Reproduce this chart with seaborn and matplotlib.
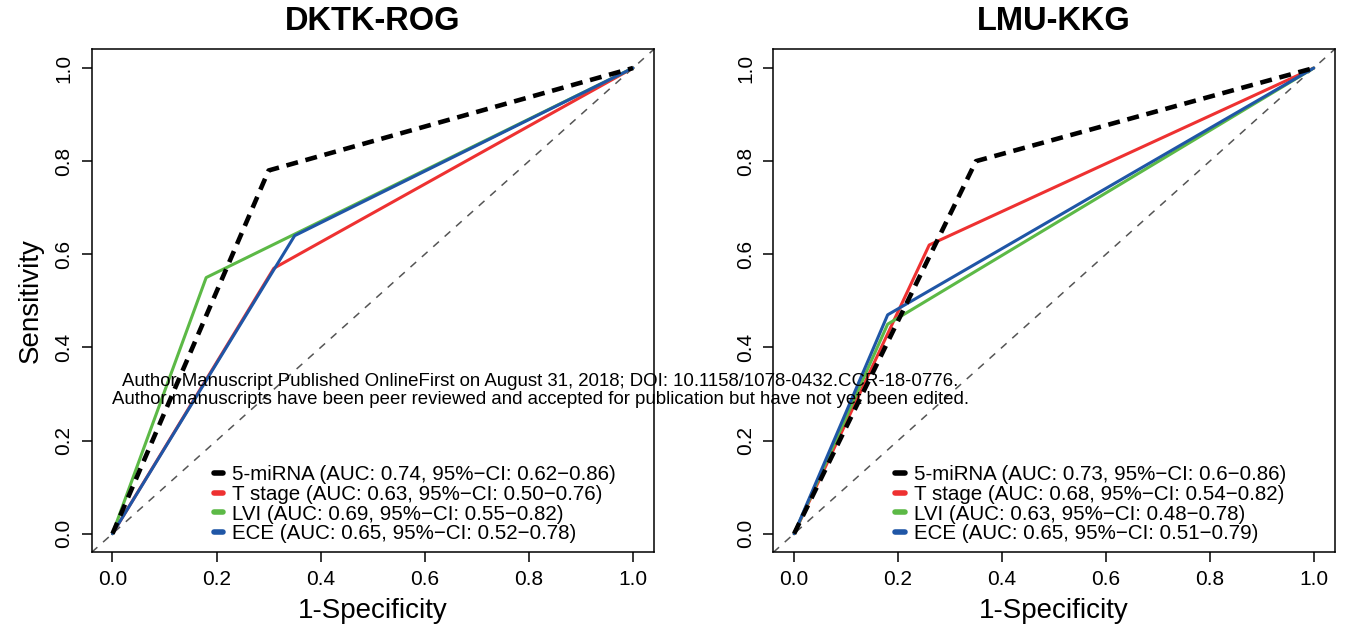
import matplotlib
matplotlib.use("Agg")
import matplotlib.pyplot as plt
from matplotlib.lines import Line2D
import numpy as np
import pandas as pd
import seaborn as sns

# ROC points (1-specificity, sensitivity) for each predictor, per cohort
cohorts = ["DKTK-ROG", "LMU-KKG"]
predictors = ["5-miRNA", "T stage", "LVI", "ECE"]

dktk_fpr = {"5-miRNA": [0.0, 0.30, 1.0], "T stage": [0.0, 0.31, 1.0],
            "LVI": [0.0, 0.18, 1.0], "ECE": [0.0, 0.35, 1.0]}
dktk_tpr = {"5-miRNA": [0.0, 0.78, 1.0], "T stage": [0.0, 0.57, 1.0],
            "LVI": [0.0, 0.55, 1.0], "ECE": [0.0, 0.64, 1.0]}
lmu_fpr = {"5-miRNA": [0.0, 0.35, 1.0], "T stage": [0.0, 0.26, 1.0],
           "LVI": [0.0, 0.18, 1.0], "ECE": [0.0, 0.18, 1.0]}
lmu_tpr = {"5-miRNA": [0.0, 0.80, 1.0], "T stage": [0.0, 0.62, 1.0],
           "LVI": [0.0, 0.45, 1.0], "ECE": [0.0, 0.47, 1.0]}

dktk_labels = ["5-miRNA (AUC: 0.74, 95%\u2212CI: 0.62\u22120.86)",
               "T stage (AUC: 0.63, 95%\u2212CI: 0.50\u22120.76)",
               "LVI (AUC: 0.69, 95%\u2212CI: 0.55\u22120.82)",
               "ECE (AUC: 0.65, 95%\u2212CI: 0.52\u22120.78)"]
lmu_labels = ["5-miRNA (AUC: 0.73, 95%\u2212CI: 0.6\u22120.86)",
              "T stage (AUC: 0.68, 95%\u2212CI: 0.54\u22120.82)",
              "LVI (AUC: 0.63, 95%\u2212CI: 0.48\u22120.78)",
              "ECE (AUC: 0.65, 95%\u2212CI: 0.51\u22120.79)"]

tick_vals = [0.0, 0.2, 0.4, 0.6, 0.8, 1.0]
tick_labels = ["0.0", "0.2", "0.4", "0.6", "0.8", "1.0"]

colors = {"5-miRNA": "black", "T stage": "#EE3131", "LVI": "#5CB946", "ECE": "#1F56A6"}
draw_order = ["T stage", "LVI", "ECE", "5-miRNA"]

sns.set_style("ticks")
plt.rcParams["font.family"] = ["Liberation Sans", "DejaVu Sans"]
plt.rcParams.update({"text.color": "black", "axes.labelcolor": "black",
                     "xtick.color": "black", "ytick.color": "black",
                     "axes.edgecolor": "black"})

fig = plt.figure(figsize=(13.48, 6.31), dpi=100)
ax_pos = [[0.068, 0.1247, 0.417, 0.797], [0.5737, 0.1247, 0.4163, 0.797]]

panels = [(dktk_fpr, dktk_tpr, dktk_labels), (lmu_fpr, lmu_tpr, lmu_labels)]

for i, (fpr, tpr, labels) in enumerate(panels):
    ax = fig.add_axes(ax_pos[i])
    ax.axline((0, 0), (1, 1), color="#555555", lw=1.1, dashes=(5, 5), zorder=1)
    for name in draw_order:
        df = pd.DataFrame({"fpr": fpr[name], "tpr": tpr[name]})
        if name == "5-miRNA":
            sns.lineplot(data=df, x="fpr", y="tpr", sort=False, estimator=None,
                         color=colors[name], lw=3.3, ax=ax, zorder=4)
            ax.lines[-1].set_dashes((2.6, 1.7))
        else:
            sns.lineplot(data=df, x="fpr", y="tpr", sort=False, estimator=None,
                         color=colors[name], lw=2.2, ax=ax, zorder=3)
    ax.set_xlim(-0.04, 1.04)
    ax.set_ylim(-0.04, 1.04)
    ax.set_xticks(tick_vals)
    ax.set_xticklabels(tick_labels, fontsize=15)
    ax.set_yticks(tick_vals)
    ax.set_yticklabels(tick_labels, fontsize=15, rotation=90, va="center")
    ax.tick_params(axis="both", direction="out", length=7, width=1.1, color="black", pad=6)
    for sp in ax.spines.values():
        sp.set_visible(True)
        sp.set_linewidth(1.1)
        sp.set_color("black")
    ax.set_xlabel("1-Specificity", fontsize=20, labelpad=6)
    ax.set_ylabel("Sensitivity" if i == 0 else "", fontsize=20, labelpad=8)
    ax.set_title(cohorts[i], fontsize=23.5, fontweight="bold", pad=14)

    handles = [Line2D([0], [0], color=colors[n], lw=4, solid_capstyle="round") for n in predictors]
    ax.legend(handles, labels, loc="lower left", bbox_to_anchor=(0.21, 0.01),
              frameon=False, fontsize=14.8, handlelength=0.45, handletextpad=0.45,
              labelspacing=0.03, borderpad=0.2, borderaxespad=0)

fig.text(0.401, 1 - 381 / 631, "Author Manuscript Published OnlineFirst on August 31, 2018; DOI: 10.1158/1078-0432.CCR-18-0776.",
         ha="center", va="center", fontsize=13.4, zorder=10)
fig.text(0.401, 1 - 399 / 631, "Author manuscripts have been peer reviewed and accepted for publication but have not yet been edited.",
         ha="center", va="center", fontsize=13.4, zorder=10)

fig.savefig("out.png", dpi=100)
